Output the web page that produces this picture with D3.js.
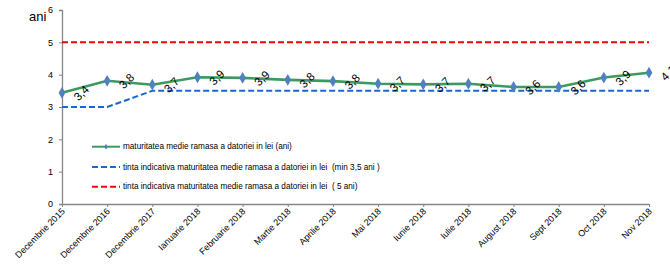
<!DOCTYPE html>
<html>
  <head>
    <title>maturitatea medie ramasa</title>
    <style>
      body { margin: 0; background: #fff; }
      text { font-family: "Liberation Sans", Arial, sans-serif; }
    </style>
  </head>
  <body>
    <script src="https://cdn.jsdelivr.net/npm/d3@7"></script>
    <script>
      var w = 670, h = 271;
      var margin = {top: 10, left: 62, right: 21, bottom: 67};

      var luni = ["Decembrie 2015", "Decembrie 2016", "Decembrie 2017", "Ianuarie 2018", "Februarie 2018",
                  "Martie 2018", "Aprilie 2018", "Mai 2018", "Iunie 2018", "Iulie 2018", "August 2018",
                  "Sept 2018", "Oct 2018", "Nov 2018"];
      var maturitate = [3.44, 3.81, 3.69, 3.92, 3.9, 3.84, 3.8, 3.72, 3.7, 3.72, 3.62, 3.62, 3.91, 4.06];
      var etichete = ["3,4", "3,8", "3,7", "3,9", "3,9", "3,8", "3,8", "3,7", "3,7", "3,7", "3,6", "3,6", "3,9", "4,1"];
      var tintaMin = [3, 3, 3.5, 3.5, 3.5, 3.5, 3.5, 3.5, 3.5, 3.5, 3.5, 3.5, 3.5, 3.5];
      var tinta5 = [5, 5, 5, 5, 5, 5, 5, 5, 5, 5, 5, 5, 5, 5];
      var yTicks = [0, 1, 2, 3, 4, 5, 6];
      var legenda = ["maturitatea medie ramasa a datoriei in lei (ani)",
                     "tinta indicativa maturitatea medie ramasa a datoriei in lei  (min 3,5 ani )",
                     "tinta indicativa maturitatea medie ramasa a datoriei in lei  ( 5 ani)"];

      var svg = d3.select('body').append('svg').attr('width', w).attr('height', h);

      var x = d3.scalePoint().domain(luni).range([margin.left, w - margin.right]).padding(0);
      var y = d3.scaleLinear().domain([0, 6]).range([h - margin.bottom, margin.top]);

      // axes
      var yAxis = svg.append('g').attr('transform', 'translate(' + margin.left + ',0)')
        .call(d3.axisLeft(y).tickValues(yTicks).tickFormat(d3.format('d')).tickSize(3).tickPadding(6));
      yAxis.selectAll('text').style('font-size', '9px').attr('fill', '#000');
      var xAxis = svg.append('g').attr('transform', 'translate(0,' + y(0) + ')')
        .call(d3.axisBottom(x).tickSize(3).tickSizeOuter(0));
      xAxis.selectAll('text').style('font-size', '9px').attr('fill', '#000')
        .attr('text-anchor', 'end').attr('dy', null).attr('y', 0)
        .attr('transform', 'translate(3,8) rotate(-45)');
      svg.selectAll('.domain, .tick line').attr('stroke', '#868686');
      svg.selectAll('.domain').attr('stroke-width', 1.3);

      svg.append('text').attr('x', 29).attr('y', 21).style('font-size', '13px').text('ani');

      var line = d3.line().x(function(d, i) { return x(luni[i]); }).y(function(d) { return y(d); });

      svg.append('path').datum(tinta5).attr('d', line).attr('fill', 'none')
        .attr('stroke', '#ff0000').attr('stroke-width', 2).attr('stroke-dasharray', '6,3');
      svg.append('path').datum(tintaMin).attr('d', line).attr('fill', 'none')
        .attr('stroke', '#1769d1').attr('stroke-width', 2).attr('stroke-dasharray', '6,3');
      svg.append('path').datum(maturitate).attr('d', line).attr('fill', 'none')
        .attr('stroke', '#3c9a5f').attr('stroke-width', 2.6);

      var diamond = d3.symbol().type(d3.symbolDiamond).size(40);
      svg.selectAll('.pt').data(maturitate).enter().append('path').attr('class', 'pt')
        .attr('d', diamond).attr('fill', '#4f81bd')
        .attr('transform', function(d, i) { return 'translate(' + x(luni[i]) + ',' + y(d) + ')'; });

      svg.selectAll('.lbl').data(maturitate).enter().append('text').attr('class', 'lbl')
        .attr('text-anchor', 'middle').attr('dominant-baseline', 'middle')
        .style('font-size', '11.5px')
        .attr('transform', function(d, i) { return 'translate(' + (x(luni[i]) + 20) + ',' + (y(d) + 1) + ') rotate(-45)'; })
        .text(function(d, i) { return etichete[i]; });

      // legend
      var culori = ['#3c9a5f', '#1769d1', '#ff0000'];
      var leg = svg.selectAll('.leg').data(legenda).enter().append('g').attr('class', 'leg')
        .attr('transform', function(d, i) { return 'translate(92,' + [146.7, 167, 186.7][i] + ')'; });
      leg.append('line').attr('x1', 0).attr('x2', 28).attr('y1', 0).attr('y2', 0)
        .attr('stroke', function(d, i) { return culori[i]; }).attr('stroke-width', 2)
        .attr('stroke-dasharray', function(d, i) { return i ? '6,3' : null; });
      leg.filter(function(d, i) { return i === 0; }).append('path')
        .attr('d', d3.symbol().type(d3.symbolDiamond).size(10)).attr('fill', '#4f81bd')
        .attr('transform', 'translate(14,0)');
      leg.append('text').attr('x', 31).attr('dy', '0.33em').style('font-size', '8.2px')
        .style('white-space', 'pre')
        .text(function(d) { return d; });
    </script>
  </body>
</html>
